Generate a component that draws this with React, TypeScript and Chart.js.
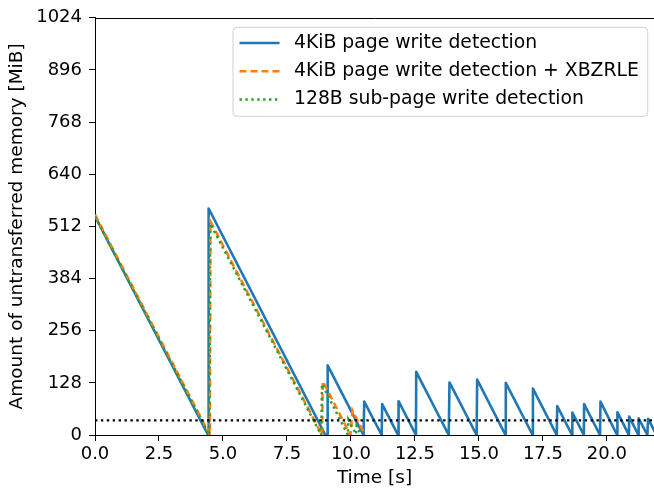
import React, { useEffect, useRef } from "react";
import { Chart, registerables } from "chart.js";

Chart.register(...registerables);

// ---- Data ----
const pageTimes = [0, 4.42, 4.44, 9.0, 9.08, 9.09, 10.49, 10.52, 11.2, 11.22, 11.84, 11.86, 12.54, 12.55, 13.82, 13.85, 14.91, 14.93, 16.04, 16.05, 17.1, 17.11, 18.04, 18.06, 18.64, 18.65, 19.1, 19.11, 19.73, 19.75, 20.4, 20.41, 20.86, 20.87, 21.23, 21.24, 21.58, 21.61, 21.94];
const pageValues = [537, 0, 556, 0, 0, 171, 0, 82, 0, 76, 0, 83, 0, 155, 0, 129, 0, 136, 0, 128, 0, 114, 0, 71, 0, 55, 0, 76, 0, 82, 0, 56, 0, 45, 0, 41, 0, 40, 0];

const xbzrleTimes = [0, 4.49, 4.51, 8.87, 8.9, 9.98, 10.06, 10.55];
const xbzrleValues = [541, 0, 524, 0, 132, 0, 60, 0];

const subPageTimes = [0, 4.47, 4.5, 8.84, 8.87, 9.88, 9.9, 10.2, 10.22, 10.4];
const subPageValues = [536, 0, 519, 0, 125, 0, 38, 2, 22, 0];

const thresholdTimes = [0, 21.84];
const thresholdValues = [36, 36];

const seriesLabels = [
  "4KiB page write detection",
  "4KiB page write detection + XBZRLE",
  "128B sub-page write detection",
];

const xMin = 0;
const xMax = 21.84;
const xStep = 2.5;
const yMin = 0;
const yMax = 1024;
const yStep = 128;

const FONT = '"DejaVu Sans", "Liberation Sans", sans-serif';
const FS = 18;
const LEGEND_FS = 18.8;
const TITLE_FS = 18.5;

const toPoints = (t: number[], v: number[]) => t.map((x, i) => ({ x, y: v[i] }));

const boxLegend = {
  id: "boxLegend",
  afterDraw(chart: any) {
    const ctx = chart.ctx;
    const ca = chart.chartArea;
    const items = chart.data.datasets.filter((d: any) => d.label);
    ctx.save();
    // top spine
    ctx.strokeStyle = "#000";
    ctx.lineWidth = 1;
    ctx.beginPath();
    ctx.moveTo(ca.left, Math.round(ca.top) + 0.5);
    ctx.lineTo(ca.right, Math.round(ca.top) + 0.5);
    ctx.stroke();

    ctx.font = `${LEGEND_FS}px ${FONT}`;
    const maxW = Math.max(...items.map((d: any) => ctx.measureText(d.label).width));
    const left = ca.left + 138;
    const top = ca.top + 9.5;
    const w = 61 + maxW + 9;
    const h = 89;
    const r = 4;
    ctx.beginPath();
    ctx.moveTo(left + r, top);
    ctx.lineTo(left + w - r, top);
    ctx.quadraticCurveTo(left + w, top, left + w, top + r);
    ctx.lineTo(left + w, top + h - r);
    ctx.quadraticCurveTo(left + w, top + h, left + w - r, top + h);
    ctx.lineTo(left + r, top + h);
    ctx.quadraticCurveTo(left, top + h, left, top + h - r);
    ctx.lineTo(left, top + r);
    ctx.quadraticCurveTo(left, top, left + r, top);
    ctx.closePath();
    ctx.fillStyle = "rgba(255,255,255,0.8)";
    ctx.fill();
    ctx.strokeStyle = "rgba(204,204,204,0.9)";
    ctx.lineWidth = 1;
    ctx.stroke();

    items.forEach((d: any, i: number) => {
      const y = top + 15.7 + i * 28.3;
      ctx.beginPath();
      ctx.setLineDash(d.borderDash || []);
      ctx.lineCap = d.borderCapStyle || "butt";
      ctx.strokeStyle = d.borderColor;
      ctx.lineWidth = d.borderWidth;
      ctx.moveTo(left + 6.5, y);
      ctx.lineTo(left + 46.5, y);
      ctx.stroke();
      ctx.setLineDash([]);
      ctx.fillStyle = "#000";
      ctx.textBaseline = "middle";
      ctx.textAlign = "left";
      ctx.fillText(d.label, left + 61, y);
    });
    ctx.restore();
  },
};

export default function App() {
  const ref = useRef<HTMLCanvasElement | null>(null);
  useEffect(() => {
    if (!ref.current) return;
    Chart.defaults.font.family = FONT;
    Chart.defaults.font.size = FS;
    Chart.defaults.color = "#000";
    const chart = new Chart(ref.current, {
      type: "line",
      data: {
        datasets: [
          {
            label: seriesLabels[0],
            data: toPoints(pageTimes, pageValues),
            borderColor: "#1f77b4",
            borderWidth: 2.6,
            pointRadius: 0,
            borderJoinStyle: "round",
            order: 3,
          },
          {
            label: seriesLabels[1],
            data: toPoints(xbzrleTimes, xbzrleValues),
            borderColor: "#ff7f0e",
            borderWidth: 2.5,
            borderDash: [7, 4],
            borderCapStyle: "butt",
            pointRadius: 0,
            order: 2,
          },
          {
            label: seriesLabels[2],
            data: toPoints(subPageTimes, subPageValues),
            borderColor: "#2ca02c",
            borderWidth: 2.5,
            borderDash: [2.4, 3.5],
            borderCapStyle: "butt",
            pointRadius: 0,
            order: 1,
          },
          {
            label: "",
            data: toPoints(thresholdTimes, thresholdValues),
            borderColor: "#000",
            borderWidth: 2.4,
            borderDash: [2.4, 3.5],
            borderCapStyle: "butt",
            pointRadius: 0,
            order: 0,
          },
        ],
      },
      options: {
        animation: false,
        responsive: false,
        maintainAspectRatio: false,
        parsing: true,
        layout: { padding: { left: 0, right: 0, top: 15.5, bottom: 0 } },
        plugins: {
          legend: { display: false },
          tooltip: { enabled: false },
          title: { display: false },
        },
        elements: { line: { tension: 0, fill: false } },
        scales: {
          x: {
            type: "linear",
            min: xMin,
            max: xMax,
            ticks: {
              stepSize: xStep,
              includeBounds: false,
              padding: 3,
              maxRotation: 0,
              autoSkip: false,
              callback: (v: any) => Number(v).toFixed(1),
              font: { size: FS, family: FONT },
              color: "#000",
            },
            grid: { drawOnChartArea: false, drawTicks: true, tickLength: 6, tickColor: "#000", tickWidth: 1 },
            border: { display: true, color: "#000", width: 1 },
            title: { display: true, text: "Time [s]", padding: { top: 0, bottom: 3 }, font: { size: TITLE_FS, family: FONT }, color: "#000" },
            afterFit: (s: any) => { s.height = 57; },
          },
          y: {
            type: "linear",
            min: yMin,
            max: yMax,
            ticks: {
              stepSize: yStep,
              padding: 7,
              autoSkip: false,
              callback: (v: any) => String(v),
              font: { size: FS, family: FONT },
              color: "#000",
            },
            grid: { drawOnChartArea: false, drawTicks: true, tickLength: 6, tickColor: "#000", tickWidth: 1 },
            border: { display: true, color: "#000", width: 1 },
            title: { display: true, text: "Amount of untransferred memory [MiB]", padding: { top: 6, bottom: 0 }, font: { size: TITLE_FS, family: FONT }, color: "#000" },
            afterFit: (s: any) => { s.width = 95; },
          },
        },
      },
      plugins: [boxLegend],
    } as any);
    return () => chart.destroy();
  }, []);
  return (
    <div style={{ position: "fixed", left: 0, top: 0, width: 654, height: 492, background: "#fff" }}>
      <canvas ref={ref} width={654} height={492} style={{ display: "block", width: 654, height: 492 }} />
    </div>
  );
}
